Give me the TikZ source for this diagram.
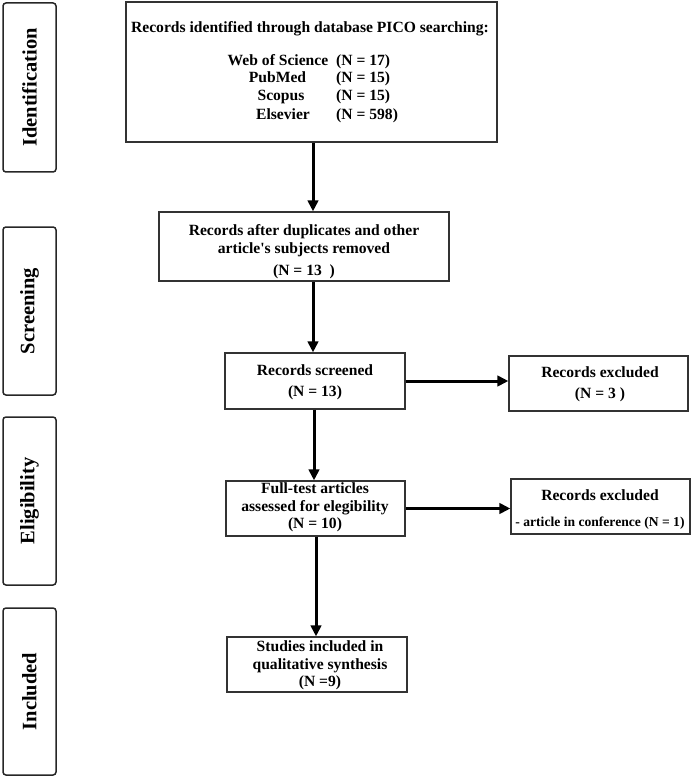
\documentclass[tikz,border=0pt]{standalone}
\usepackage{fontspec}
\setmainfont{Liberation Serif}
\usetikzlibrary{arrows.meta,calc}
\begin{document}
\begin{tikzpicture}[x=1pt,y=-1pt,
  box/.style={draw=black!80,line width=1.3pt,inner sep=0pt,rectangle},
  side/.style={draw=black!85,line width=1.5pt,rounded corners=3pt,rotate=90,inner sep=0pt,
     minimum height=53pt,font=\fontsize{20.5}{24}\selectfont\bfseries},
  txt/.style={inner sep=0pt,align=center,font=\fontsize{15.6}{17.5}\selectfont\bfseries},
  arr/.style={line width=3pt,-{Triangle[length=11pt,width=10.5pt]}}]
\useasboundingbox (0,0) rectangle (692,778);
% phase labels
\node[side,minimum width=169pt] (sid) at (29.5,87.5) {Identification};
\node[side,minimum width=168pt] (ssc) at (29.5,311) {Screening};
\node[side,minimum width=168pt] (sel) at (29.5,501) {Eligibility};
\node[side,minimum width=167pt] (sin) at (29.5,691.5) {Included};
% boxes
\node[box,minimum width=371pt,minimum height=140pt] (top) at (311.5,72) {};
\node[box,minimum width=290pt,minimum height=69pt] (b2) at (304,246.5) {};
\node[box,minimum width=180pt,minimum height=56pt] (b3) at (315,381) {};
\node[box,minimum width=179pt,minimum height=55pt] (e1) at (598.5,383.5) {};
\node[box,minimum width=179pt,minimum height=55pt] (b4) at (315.5,508.5) {};
\node[box,minimum width=179pt,minimum height=55pt] (e2) at (600.5,506.5) {};
\node[box,minimum width=180pt,minimum height=55pt] (b5) at (317,664.5) {};
% texts
\node[txt,anchor=base] (tt) at (310,32.5) {Records identified through database PICO searching:};
\node[txt,anchor=base] (n1) at (278,66) {Web of Science};
\node[txt,anchor=base] (n2) at (277.5,83) {PubMed};
\node[txt,anchor=base] (n3) at (281,101) {Scopus};
\node[txt,anchor=base] (n4) at (283,120) {Elsevier};
\node[txt,anchor=base west] (v1) at (336,66) {(N = 17)};
\node[txt,anchor=base west] (v2) at (336,83) {(N = 15)};
\node[txt,anchor=base west] (v3) at (336,101) {(N = 15)};
\node[txt,anchor=base west] (v4) at (336,120) {(N = 598)};
\node[txt] (b2t) at (304,252) {Records after duplicates and other\\article\textquotesingle s subjects removed\\[5pt](N = 13\ \ )};
\node[txt] (b3t) at (315,382.5) {Records screened\\[3.5pt](N = 13)};
\node[txt] (e1t) at (600,384.5) {Records excluded\\[3.5pt](N = 3 )};
\node[txt] (b4t) at (315,507.5) {Full-test articles\\assessed for elegibility\\(N = 10)};
\node[txt] (e2t) at (600,510) {Records excluded\\[8.5pt]{\fontsize{13.6}{17.5}\selectfont - article in conference (N = 1)}};
\node[txt] (b5t) at (320,665.5) {Studies included in\\qualitative synthesis\\(N =9)};
% arrows
\coordinate (ax) at (313,0);
\coordinate (bx) at (314,0);
\coordinate (cx) at (316,0);
\draw[arr] (ax |- top.south) -- (ax |- b2.north);
\draw[arr] (ax |- b2.south) -- (ax |- b3.north);
\draw[arr] (bx |- b3.south) -- (bx |- b4.north);
\draw[arr] (cx |- b4.south) -- (cx |- b5.north);
\draw[arr] (b3.east) -- (b3.east -| e1.west);
\draw[arr] (b4.east) -- (b4.east -| e2.west);
\end{tikzpicture}
\end{document}
